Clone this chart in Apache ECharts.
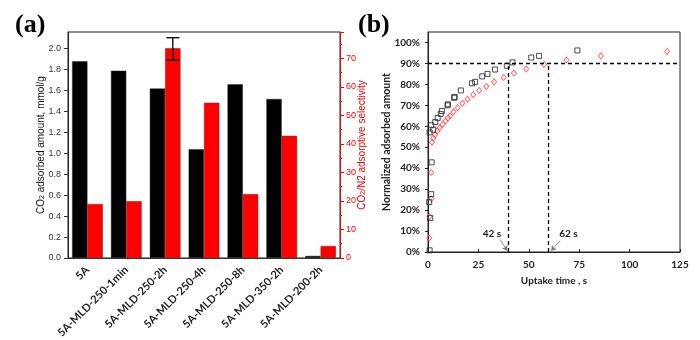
<!DOCTYPE html>
<html><head><meta charset="utf-8">
<script src="https://cdn.jsdelivr.net/npm/echarts@6/dist/echarts.min.js"></script>
<style>html,body{margin:0;padding:0;background:#fff}#c{width:700px;height:340px}</style>
</head><body><div id="c"></div>
<script>
// ---- Panel (a) data ----
var categories = ['5A','5A-MLD-250-1min','5A-MLD-250-2h','5A-MLD-250-4h','5A-MLD-250-8h','5A-MLD-350-2h','5A-MLD-200-2h'];
var co2Uptake = [1.88, 1.79, 1.62, 1.04, 1.66, 1.52, 0.02];
var selectivity = [18.9, 19.9, 73.5, 54.4, 22.4, 42.8, 4.2];
var errIndex = [2];
var errLow = [69.3];
var errHigh = [77.2];

// ---- Panel (b) data ----
var squareT = [0.8,1.1,0.6,1.6,1.8,0.8,2.6,1.6,3.6,4.8,6.3,6.9,9.7,9.9,13,13.2,16.3,21.8,23.4,26.9,29.5,33.2,39.1,41.9,51.2,55.1,74.1];
var squareY = [0.8,16.2,23.8,27.6,42.8,57.1,58.4,60.5,62,64,65.9,67.3,70,70.5,73.6,74,77.1,80.5,81.2,83.8,85,87.1,88.9,90.5,92.8,93.6,96.2];
var diamondT = [0.6,0.8,1.6,1.6,2.0,2.6,3.5,4.6,5.8,7.2,8.7,9.9,11,12.7,14.7,17.1,19.6,22.4,25.4,28.9,32.8,37.5,42.6,48.7,57.6,68.7,85.7,118.6];
var diamondY = [6.7,17,25.4,37.9,52.4,54.3,56,57.8,59.3,60.9,62.5,64,65,66.9,68.9,71,72.9,75.1,77.1,79,81.2,83.3,85.4,87.4,89.5,91.6,93.6,95.7];
var level90 = 90;
var vTimes = [40, 59.5];
var timeLabels = ['42 s', '62 s'];

var chart = echarts.init(document.getElementById('c'), null, {renderer: 'canvas'});

var squares = squareT.map(function (t, i) { return [t, squareY[i]]; });
var diamonds = diamondT.map(function (t, i) { return [t, diamondY[i]]; });
var errData = errIndex.map(function (c, i) { return [c, errLow[i], errHigh[i]]; });

var guideLines = [[{coord: [0, level90]}, {coord: [125, level90]}]];
vTimes.forEach(function (t) { guideLines.push([{coord: [t, 0]}, {coord: [t, level90]}]); });

var sansA = 'Liberation Sans';
var sansB = 'Lato';

var option = {
  animation: false,
  backgroundColor: '#fff',
  graphic: [
    {type: 'text', left: 15, top: 12, style: {text: '(a)', font: 'bold 26px "Liberation Serif"', fill: '#000'}},
    {type: 'text', left: 358, top: 12, style: {text: '(b)', font: 'bold 26px "Liberation Serif"', fill: '#000'}}
  ],
  grid: [
    {left: 68, top: 32, width: 272, height: 226, show: true, borderColor: '#222', borderWidth: 1,
      backgroundColor: 'transparent', containLabel: false, outerBoundsMode: 'none'},
    {left: 428, top: 32, width: 252, height: 220, show: true, borderColor: '#222', borderWidth: 1,
      backgroundColor: 'transparent', containLabel: false, outerBoundsMode: 'none'}
  ],
  xAxis: [
    {
      gridIndex: 0, type: 'category', data: categories,
      axisLine: {lineStyle: {color: '#333', width: 1}},
      axisTick: {alignWithLabel: true, length: 4, lineStyle: {color: '#333'}},
      axisLabel: {rotate: 45, interval: 0, margin: 10, color: '#222', fontFamily: sansB, fontWeight: 'bold', fontSize: 11},
      splitLine: {show: false}
    },
    {
      gridIndex: 1, type: 'value', min: 0, max: 125, interval: 25,
      name: 'Uptake time , s', nameLocation: 'middle', nameGap: 24, nameMoveOverlap: false,
      nameTextStyle: {color: '#222', fontFamily: sansB, fontWeight: 'bold', fontSize: 10},
      axisLine: {lineStyle: {color: '#222', width: 1}},
      axisTick: {inside: true, length: 3, lineStyle: {color: '#222'}},
      axisLabel: {color: '#222', fontFamily: sansB, fontWeight: 'bold', fontSize: 10, margin: 8},
      splitLine: {show: false}
    }
  ],
  yAxis: [
    {
      gridIndex: 0, type: 'value', min: 0, max: 2.16, interval: 0.2, position: 'left',
      name: 'CO{sub|2} adsorbed amount, mmol/g', nameLocation: 'middle', nameGap: 22, nameRotate: 90,
      nameMoveOverlap: false,
      nameTextStyle: {color: '#111', fontFamily: sansA, fontSize: 10,
        rich: {sub: {fontSize: 7, verticalAlign: 'bottom', fontFamily: sansA, color: '#111'}}},
      axisLine: {show: true, lineStyle: {color: '#222'}},
      axisTick: {show: true, length: 4, lineStyle: {color: '#333'}},
      axisLabel: {color: '#333', fontFamily: sansA, fontSize: 9, margin: 7, showMaxLabel: false,
        formatter: function (v) { return v.toFixed(1); }},
      splitLine: {show: false}
    },
    {
      gridIndex: 0, type: 'value', min: 0, max: 79.2, interval: 10, position: 'right',
      name: 'CO{sub|2}/N2 adsorptive selectivity', nameLocation: 'middle', nameGap: 17, nameRotate: 90,
      nameMoveOverlap: false,
      nameTextStyle: {color: '#ff0000', fontFamily: sansA, fontSize: 10,
        rich: {sub: {fontSize: 7, verticalAlign: 'bottom', fontFamily: sansA, color: '#ff0000'}}},
      axisLine: {show: true, lineStyle: {color: '#ff0000', width: 1}},
      axisTick: {show: true, length: 4, lineStyle: {color: '#ff0000'}},
      minorTick: {show: true, splitNumber: 2, length: 2, lineStyle: {color: '#ff0000'}},
      axisLabel: {color: '#ff0000', fontFamily: sansA, fontSize: 9, margin: 6, showMaxLabel: false},
      splitLine: {show: false}
    },
    {
      gridIndex: 1, type: 'value', min: 0, max: 105, interval: 10,
      name: 'Normalized adsorbed amount', nameLocation: 'middle', nameGap: 36, nameMoveOverlap: false,
      nameTextStyle: {color: '#222', fontFamily: sansB, fontWeight: 'bold', fontSize: 10.5},
      axisLine: {show: true, lineStyle: {color: '#222', width: 1}},
      axisTick: {show: true, length: 3, lineStyle: {color: '#222'}},
      axisLabel: {color: '#222', fontFamily: sansB, fontWeight: 'bold', fontSize: 10, margin: 8, showMaxLabel: false,
        formatter: '{value}%'},
      splitLine: {show: false}
    }
  ],
  series: [
    {
      type: 'bar', name: 'CO2 uptake', xAxisIndex: 0, yAxisIndex: 0, data: co2Uptake,
      barGap: '0%', barCategoryGap: '21%',
      itemStyle: {color: '#000', borderColor: '#333', borderWidth: 0.5}
    },
    {
      type: 'bar', name: 'Selectivity', xAxisIndex: 0, yAxisIndex: 1, data: selectivity,
      barGap: '0%', barCategoryGap: '21%',
      itemStyle: {color: '#ff0000', borderColor: '#8a1a1a', borderWidth: 0.5}
    },
    {
      type: 'custom', xAxisIndex: 0, yAxisIndex: 1, data: errData, z: 10,
      renderItem: function (params, api) {
        var c = api.value(0);
        var lo = api.coord([c, api.value(1)]);
        var hi = api.coord([c, api.value(2)]);
        var w = api.size([1, 0])[0];
        var x = lo[0] + w * 0.79 / 4;
        var cap = 6.5;
        var st = {stroke: '#000', lineWidth: 1.3};
        return {type: 'group', children: [
          {type: 'line', shape: {x1: x, y1: lo[1], x2: x, y2: hi[1]}, style: st},
          {type: 'line', shape: {x1: x - cap, y1: lo[1], x2: x + cap, y2: lo[1]}, style: st},
          {type: 'line', shape: {x1: x - cap, y1: hi[1], x2: x + cap, y2: hi[1]}, style: st}
        ]};
      }
    },
    {
      type: 'scatter', xAxisIndex: 1, yAxisIndex: 2, data: diamonds,
      symbol: 'diamond', symbolSize: [5, 6],
      itemStyle: {color: 'rgba(0,0,0,0)', borderColor: '#ff4d4d', borderWidth: 1},
      z: 3
    },
    {
      type: 'scatter', xAxisIndex: 1, yAxisIndex: 2, data: squares,
      symbol: 'rect', symbolSize: 5,
      itemStyle: {color: 'rgba(0,0,0,0)', borderColor: '#222', borderWidth: 1},
      z: 4,
      markLine: {
        silent: true, symbol: ['none', 'none'],
        lineStyle: {color: '#000', type: [4, 3], width: 1.3},
        label: {show: false},
        data: guideLines
      }
    },
    {
      type: 'line', xAxisIndex: 1, yAxisIndex: 2, data: [], silent: true,
      markLine: {
        silent: true, symbol: ['none', 'arrow'], symbolSize: 5,
        lineStyle: {color: '#777', type: 'solid', width: 0.8},
        label: {show: false},
        data: [
          [{coord: [35.8, 5.9]}, {coord: [39.3, 0.6]}],
          [{coord: [65.5, 5.4]}, {coord: [61.1, 0.6]}]
        ]
      },
      markPoint: {
        silent: true, symbol: 'circle', symbolSize: 0,
        label: {show: true, position: 'inside', color: '#222', fontFamily: sansB, fontWeight: 'bold', fontSize: 10,
          formatter: function (p) { return p.name; }},
        data: [
          {name: timeLabels[0], coord: [31.7, 8.6]},
          {name: timeLabels[1], coord: [69.7, 8.6]}
        ]
      }
    }
  ]
};
chart.setOption(option);
</script></body></html>
